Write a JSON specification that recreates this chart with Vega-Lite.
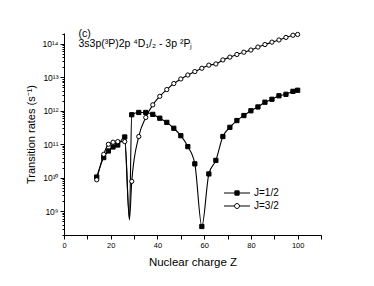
{
  "$schema": "https://vega.github.io/schema/vega-lite/v6.json",
  "width": 257,
  "height": 202,
  "padding": {"left": 64, "top": 33, "right": 53, "bottom": 51},
  "autosize": {"type": "none"},
  "config": {
    "view": {"stroke": null},
    "font": "Liberation Sans",
    "axis": {"domainColor": "black", "tickColor": "black", "labelColor": "black", "titleColor": "black", "grid": false, "labelFont": "Liberation Sans", "titleFont": "Liberation Sans", "titleFontWeight": "normal"}
  },
  "datasets": {
    "rates": [
      {"Z": 14, "rate": 1.05e10, "J": "J=1/2"},
      {"Z": 17, "rate": 4.0e10, "J": "J=1/2"},
      {"Z": 19, "rate": 6.3e10, "J": "J=1/2"},
      {"Z": 21, "rate": 8.3e10, "J": "J=1/2"},
      {"Z": 23, "rate": 9.5e10, "J": "J=1/2"},
      {"Z": 26, "rate": 1.65e11, "J": "J=1/2"},
      {"Z": 28, "rate": 6.0e8, "J": "J=1/2"},
      {"Z": 29, "rate": 7.6e11, "J": "J=1/2"},
      {"Z": 32, "rate": 8.9e11, "J": "J=1/2"},
      {"Z": 35, "rate": 8.9e11, "J": "J=1/2"},
      {"Z": 38, "rate": 7.8e11, "J": "J=1/2"},
      {"Z": 41, "rate": 6.0e11, "J": "J=1/2"},
      {"Z": 44, "rate": 4.5e11, "J": "J=1/2"},
      {"Z": 47, "rate": 3.0e11, "J": "J=1/2"},
      {"Z": 50, "rate": 1.8e11, "J": "J=1/2"},
      {"Z": 53, "rate": 8.5e10, "J": "J=1/2"},
      {"Z": 56, "rate": 2.6e10, "J": "J=1/2"},
      {"Z": 59, "rate": 3.5e8, "J": "J=1/2"},
      {"Z": 62, "rate": 1.3e10, "J": "J=1/2"},
      {"Z": 65, "rate": 3.3e10, "J": "J=1/2"},
      {"Z": 68, "rate": 1.7e11, "J": "J=1/2"},
      {"Z": 71, "rate": 3.2e11, "J": "J=1/2"},
      {"Z": 74, "rate": 5.1e11, "J": "J=1/2"},
      {"Z": 77, "rate": 7.2e11, "J": "J=1/2"},
      {"Z": 80, "rate": 1.0e12, "J": "J=1/2"},
      {"Z": 83, "rate": 1.3e12, "J": "J=1/2"},
      {"Z": 86, "rate": 1.8e12, "J": "J=1/2"},
      {"Z": 89, "rate": 2.2e12, "J": "J=1/2"},
      {"Z": 92, "rate": 2.8e12, "J": "J=1/2"},
      {"Z": 95, "rate": 3.1e12, "J": "J=1/2"},
      {"Z": 98, "rate": 3.8e12, "J": "J=1/2"},
      {"Z": 100, "rate": 4.1e12, "J": "J=1/2"},
      {"Z": 14, "rate": 8.7e9, "J": "J=3/2"},
      {"Z": 17, "rate": 5.0e10, "J": "J=3/2"},
      {"Z": 19, "rate": 1.0e11, "J": "J=3/2"},
      {"Z": 21, "rate": 1.15e11, "J": "J=3/2"},
      {"Z": 23, "rate": 1.2e11, "J": "J=3/2"},
      {"Z": 26, "rate": 1.2e11, "J": "J=3/2"},
      {"Z": 28, "rate": 5.5e8, "J": "J=3/2"},
      {"Z": 29, "rate": 7.8e9, "J": "J=3/2"},
      {"Z": 32, "rate": 1.7e11, "J": "J=3/2"},
      {"Z": 35, "rate": 6.3e11, "J": "J=3/2"},
      {"Z": 38, "rate": 1.5e12, "J": "J=3/2"},
      {"Z": 41, "rate": 2.7e12, "J": "J=3/2"},
      {"Z": 44, "rate": 4.3e12, "J": "J=3/2"},
      {"Z": 47, "rate": 6.5e12, "J": "J=3/2"},
      {"Z": 50, "rate": 8.9e12, "J": "J=3/2"},
      {"Z": 53, "rate": 1.17e13, "J": "J=3/2"},
      {"Z": 56, "rate": 1.48e13, "J": "J=3/2"},
      {"Z": 59, "rate": 1.86e13, "J": "J=3/2"},
      {"Z": 62, "rate": 2.3e13, "J": "J=3/2"},
      {"Z": 65, "rate": 2.5e13, "J": "J=3/2"},
      {"Z": 68, "rate": 3.3e13, "J": "J=3/2"},
      {"Z": 71, "rate": 4.0e13, "J": "J=3/2"},
      {"Z": 74, "rate": 4.8e13, "J": "J=3/2"},
      {"Z": 77, "rate": 5.6e13, "J": "J=3/2"},
      {"Z": 80, "rate": 6.5e13, "J": "J=3/2"},
      {"Z": 83, "rate": 8.0e13, "J": "J=3/2"},
      {"Z": 86, "rate": 9.5e13, "J": "J=3/2"},
      {"Z": 89, "rate": 1.12e14, "J": "J=3/2"},
      {"Z": 92, "rate": 1.3e14, "J": "J=3/2"},
      {"Z": 95, "rate": 1.55e14, "J": "J=3/2"},
      {"Z": 98, "rate": 1.8e14, "J": "J=3/2"},
      {"Z": 100, "rate": 1.9e14, "J": "J=3/2"}
    ],
    "notes": [
      {"Z": 6.2, "rate": 2.0e14, "label": "(c)"},
      {"Z": 6.2, "rate": 1.0e14, "label": "3s3p(³P)2p ⁴D₁/₂ - 3p ²Pⱼ"}
    ]
  },
  "layer": [
    {
      "data": {"name": "rates"},
      "mark": {"type": "line", "interpolate": "monotone", "color": "black", "strokeWidth": 1.1},
      "encoding": {
        "x": {"field": "Z", "type": "quantitative", "scale": {"domain": [0, 110], "nice": false},
          "axis": {"values": [0, 10, 20, 30, 40, 50, 60, 70, 80, 90, 100, 110], "labelExpr": "datum.value % 20 == 0 && datum.value <= 100 ? datum.label : ''", "title": "Nuclear charge Z", "titleFontSize": 11.5, "titlePadding": 8, "labelFontSize": 7.5, "tickSize": 4, "labelPadding": 2, "labelFlush": false}},
        "y": {"field": "rate", "type": "quantitative", "scale": {"type": "log", "domain": [1.95e8, 2.1e14], "nice": false},
          "axis": {"values": [1e9, 1e10, 1e11, 1e12, 1e13, 1e14], "labelExpr": "['10⁹','10¹⁰','10¹¹','10¹²','10¹³','10¹⁴'][round(log(datum.value)/LN10) - 9]", "title": "Transition rates (s⁻¹)", "titleFontSize": 11, "titlePadding": 6, "labelFontSize": 8.5, "tickSize": 4, "labelPadding": 2, "labelFlush": false}},
        "detail": {"field": "J"}
      }
    },
    {
      "data": {"name": "rates"},
      "transform": [{"filter": "datum.Z != 28"}],
      "mark": {"type": "point", "filled": true, "stroke": "black", "strokeWidth": 1, "size": 18, "opacity": 1},
      "encoding": {
        "x": {"field": "Z", "type": "quantitative",
          "axis": {"orient": "bottom", "values": [], "labels": false, "ticks": false, "domain": false, "title": null}},
        "y": {"field": "rate", "type": "quantitative",
          "axis": {"orient": "left", "values": [2e8,3e8,4e8,5e8,6e8,7e8,8e8,9e8,2e9,3e9,4e9,5e9,6e9,7e9,8e9,9e9,2e10,3e10,4e10,5e10,6e10,7e10,8e10,9e10,2e11,3e11,4e11,5e11,6e11,7e11,8e11,9e11,2e12,3e12,4e12,5e12,6e12,7e12,8e12,9e12,2e13,3e13,4e13,5e13,6e13,7e13,8e13,9e13,2e14], "labels": false, "tickSize": 2, "domain": false, "title": null}},
        "shape": {"field": "J", "type": "nominal", "scale": {"domain": ["J=1/2", "J=3/2"], "range": ["square", "circle"]}, "legend": null},
        "fill": {"field": "J", "type": "nominal", "scale": {"domain": ["J=1/2", "J=3/2"], "range": ["black", "white"]}, "legend": null}
      }
    },
    {
      "data": {"name": "rates"},
      "transform": [{"filter": "false"}],
      "mark": {"type": "point", "filled": true, "strokeWidth": 1, "opacity": 1},
      "encoding": {
        "shape": {"field": "J", "type": "nominal", "scale": {"domain": ["J=1/2", "J=3/2"], "range": ["M-2,0H-0.33M0.33,0H2M-0.33,-0.33H0.33V0.33H-0.33Z", "M-2,0H-0.38M0.38,0H2M-0.38,0A0.38,0.38 0 1,0 0.38,0A0.38,0.38 0 1,0 -0.38,0Z"]},
          "legend": {"orient": "none", "legendX": 166, "legendY": 153, "title": null, "symbolSize": 169, "rowPadding": 1, "labelOffset": 10, "labelFontSize": 10, "labelFont": "Liberation Sans", "labelColor": "black", "symbolStrokeWidth": 1, "symbolOpacity": 1}},
        "fill": {"field": "J", "type": "nominal", "scale": {"domain": ["J=1/2", "J=3/2"], "range": ["black", "white"]},
          "legend": {"orient": "none", "legendX": 166, "legendY": 153, "title": null, "symbolSize": 169, "rowPadding": 1, "labelOffset": 10, "labelFontSize": 10, "labelFont": "Liberation Sans", "labelColor": "black", "symbolStrokeWidth": 1, "symbolOpacity": 1}},
        "stroke": {"field": "J", "type": "nominal", "scale": {"domain": ["J=1/2", "J=3/2"], "range": ["black", "black"]},
          "legend": {"orient": "none", "legendX": 166, "legendY": 153, "title": null, "symbolSize": 169, "rowPadding": 1, "labelOffset": 10, "labelFontSize": 10, "labelFont": "Liberation Sans", "labelColor": "black", "symbolStrokeWidth": 1, "symbolOpacity": 1}}
      }
    },
    {
      "data": {"name": "notes"},
      "mark": {"type": "text", "align": "left", "baseline": "middle", "color": "black", "font": "Liberation Sans", "fontSize": 10.5},
      "encoding": {
        "x": {"field": "Z", "type": "quantitative", "axis": null},
        "y": {"field": "rate", "type": "quantitative", "axis": null},
        "text": {"field": "label"}
      }
    }
  ],
  "resolve": {"axis": {"x": "independent", "y": "independent"}, "scale": {"shape": "independent", "fill": "independent", "stroke": "independent"}, "legend": {"shape": "independent", "fill": "independent", "stroke": "independent"}}
}
